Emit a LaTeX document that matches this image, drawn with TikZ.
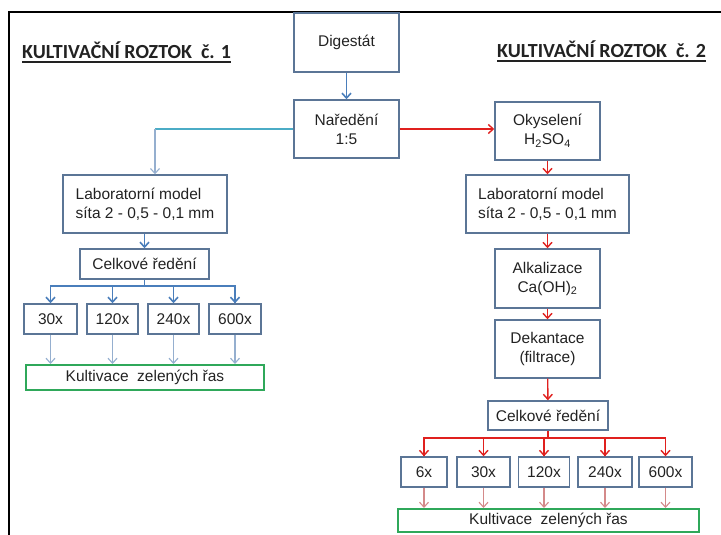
\documentclass[tikz,border=0pt]{standalone}
\usepackage{fontspec}
\setmainfont{Liberation Sans}
\newfontfamily\titlefont{Carlito}
\usetikzlibrary{arrows.meta}
\definecolor{boxc}{HTML}{5B7596}
\definecolor{bluearr}{HTML}{4A7EBB}
\definecolor{cyanline}{HTML}{4BACC6}
\definecolor{lightblue}{HTML}{95AFCF}
\definecolor{redarr}{HTML}{E0201E}
\definecolor{lightred}{HTML}{D48A8A}
\definecolor{greenc}{HTML}{2FA85A}
\definecolor{txt}{HTML}{222222}
\tikzset{
  stepbox/.style={draw=boxc, line width=1.4pt, inner sep=2pt, text=txt,
    font=\fontsize{15.5}{19}\selectfont, align=center},
  leftbox/.style={stepbox, align=left},
  greenbox/.style={draw=greenc, line width=2pt, inner sep=0pt, text=txt,
    font=\fontsize{15.5}{19}\selectfont},
  title/.style={inner sep=0pt, text=txt, font=\fontsize{20}{24}\titlefont\bfseries},
  tipb/.style={-{Straight Barb[length=5pt,width=9pt]}},
  barr/.style={tipb, draw=bluearr, line width=1.6pt},
  rarr/.style={tipb, draw=redarr, line width=1.4pt},
  lbarr/.style={tipb, draw=lightblue, line width=1.1pt},
  lrarr/.style={tipb, draw=lightred, line width=1.1pt},
}
\begin{document}
\begin{tikzpicture}[x=1pt,y=-1pt]
\useasboundingbox (0,0) rectangle (721,535);
% frame (cropped)
\draw[line width=2.2pt] (9,535) -- (9,12) -- (721,12);

% titles
\node[title, anchor=base west] (t1) at (22,59) {KULTIVAČNÍ ROZTOK\ \ č. 1};
\node[title, anchor=base west] (t2) at (497,58) {KULTIVAČNÍ ROZTOK\ \ č. 2};
\draw[line width=1.3pt, txt] ([yshift=-3pt]t1.base west) -- ([yshift=-3pt]t1.base east);
\draw[line width=1.3pt, txt] ([yshift=-3pt]t2.base west) -- ([yshift=-3pt]t2.base east);

% top
\node[stepbox, minimum width=105pt, minimum height=59pt] (dig) at (346.5,42.5) {Digestát};
\node[stepbox, minimum width=105pt, minimum height=58pt] (nar) at (346.5,129) {Naředění\\1:5};
\node[stepbox, minimum width=105pt, minimum height=58pt] (oky) at (547.5,131) {Okyselení\\H\textsubscript{2}SO\textsubscript{4}};

% left branch
\node[leftbox, minimum width=164pt, minimum height=58pt] (lab1) at (145,204) {Laboratorní model\\síta 2 - 0,5 - 0,1 mm};
\node[stepbox, minimum width=129pt, minimum height=30pt] (cel1) at (144.5,264) {Celkové\ ředění};
\node[stepbox, minimum width=53pt, minimum height=30pt] (a30) at (50.5,319) {30x};
\node[stepbox, minimum width=51pt, minimum height=30pt] (a120) at (112.5,319) {120x};
\node[stepbox, minimum width=51pt, minimum height=30pt] (a240) at (173.5,319) {240x};
\node[stepbox, minimum width=52pt, minimum height=30pt] (a600) at (235,319) {600x};
\node[greenbox, minimum width=238pt, minimum height=25pt] (g1) at (145,377.5) {Kultivace\ \ zelených řas};

% right branch
\node[leftbox, minimum width=163pt, minimum height=58pt] (lab2) at (547.5,204) {Laboratorní model\\síta 2 - 0,5 - 0,1 mm};
\node[stepbox, minimum width=105pt, minimum height=59pt] (alk) at (547.5,278.5) {Alkalizace\\Ca(OH)\textsubscript{2}};
\node[stepbox, minimum width=105pt, minimum height=58pt] (dek) at (547.5,349) {Dekantace\\(filtrace)};
\node[stepbox, minimum width=120pt, minimum height=29pt] (cel2) at (548,415.5) {Celkové\ ředění};
\node[stepbox, minimum width=46pt, minimum height=30pt] (b6) at (424,472) {6x};
\node[stepbox, minimum width=53pt, minimum height=30pt] (b30) at (483.5,472) {30x};
\node[stepbox, minimum width=51pt, minimum height=30pt] (b120) at (544,472) {120x};
\node[stepbox, minimum width=54pt, minimum height=30pt] (b240) at (605,472) {240x};
\node[stepbox, minimum width=53pt, minimum height=30pt] (b600) at (665.5,472) {600x};
\node[greenbox, minimum width=301pt, minimum height=23pt] (g2) at (548.5,520.5) {Kultivace\ \ zelených řas};

% connectors top
\draw[barr] (dig) -- (nar);
\coordinate (c1) at (155,129);
\draw[cyanline, line width=1.2pt] (nar.west) -- (c1);
\draw[lbarr] (c1) -- (c1 |- lab1.north);
\draw[rarr] (nar.east) -- (oky.west |- nar.east);
\draw[rarr] (oky) -- (oky |- lab2.north);

% left connectors
\draw[barr] (lab1.south -| cel1) -- (cel1);
\coordinate (h1) at (144.5,286);
\foreach \b in {a30,a120,a240,a600}{
  \draw[bluearr, line width=1.6pt] (cel1.south) -- (h1);
  \draw[bluearr, line width=1.6pt] (h1) -| (\b.north);
  \draw[barr] (\b.north |- h1) -- (\b.north);
  \draw[lbarr] (\b.south) -- (\b.south |- g1.north);
}

% right connectors
\draw[rarr] (lab2.south -| alk) -- (alk);
\draw[rarr] (alk) -- (dek);
\draw[rarr] (dek) -- (cel2);
\coordinate (h2) at (548,438);
\draw[redarr, line width=1.4pt] (cel2.south) -- (h2);
\foreach \b in {b6,b30,b120,b240,b600}{
  \draw[redarr, line width=1.4pt] (h2) -| (\b.north);
  \draw[rarr] (\b.north |- h2) -- (\b.north);
  \draw[lrarr] (\b.south) -- (\b.south |- g2.north);
}
\end{tikzpicture}
\end{document}
